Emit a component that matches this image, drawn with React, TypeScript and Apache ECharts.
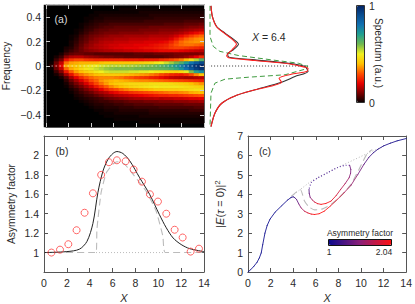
import React, { useEffect, useRef } from "react";
import * as echarts from "echarts";

const FONT = "Liberation Sans";
const xTicks14 = [0, 2, 4, 6, 8, 10, 12, 14];
const freqTicks = [-0.4, -0.2, 0, 0.2, 0.4];
const asymTicks = [1, 1.2, 1.4, 1.6, 1.8, 2];

const heatX = ["0.22","0.66","1.09","1.53","1.97","2.41","2.84","3.28","3.72","4.16","4.59","5.03","5.47","5.91","6.34","6.78","7.22","7.66","8.09","8.53","8.97","9.41","9.84","10.28","10.72","11.16","11.59","12.03","12.47","12.91","13.34","13.78"];
const heatF = [".488",".463",".439",".415",".39",".366",".342",".317",".293",".268",".244",".22",".195",".171",".146",".122",".098",".073",".049",".024","0","-.024","-.049","-.073","-.098","-.122","-.146","-.171","-.195","-.22","-.244","-.268","-.293","-.317","-.342","-.366","-.39","-.415","-.439","-.463","-.488"];
// one list per X column, top (f=+0.488) to bottom (f=-0.488), in hundredths
const spectrum = [
  [0,0,0,0,0,0,0,0,0,0,0,0,0,0,0,0,0,0,0,0,0,0,0,0,0,0,0,0,0,0,0,0,0,0,0,0,0,0,0,0,0],
  [0,0,0,0,0,0,0,0,0,0,0,0,0,0,0,0,0,0,0,1,3,1,0,0,0,0,0,0,0,0,0,0,0,0,0,0,0,0,0,0,0],
  [0,0,0,0,0,0,0,0,0,0,0,0,0,0,0,0,0,2,5,9,12,9,5,2,0,0,0,0,0,0,0,0,0,0,0,0,0,0,0,0,0],
  [0,0,0,0,0,0,0,0,0,0,0,0,0,0,0,0,2,5,10,17,21,17,11,6,2,0,0,0,0,0,0,0,0,0,0,0,0,0,0,0,0],
  [0,0,0,0,0,0,0,0,0,0,0,0,0,0,2,3,6,12,22,33,38,32,23,14,7,4,2,1,0,0,0,0,0,0,0,0,0,0,0,0,0],
  [0,0,0,0,0,0,0,0,0,0,1,1,2,2,3,5,8,15,27,37,41,38,31,22,14,9,6,4,2,1,0,0,0,0,0,0,0,0,0,0,0],
  [0,0,0,0,0,0,0,0,1,1,2,3,4,5,6,7,9,16,29,38,42,41,37,29,20,14,10,7,4,3,2,1,0,0,0,0,0,0,0,0,0],
  [0,0,0,0,0,0,1,1,2,3,5,6,7,8,9,9,9,16,29,39,45,45,40,33,25,19,14,10,7,5,3,2,1,0,0,0,0,0,0,0,0],
  [0,0,0,0,1,1,2,3,4,5,7,8,9,11,12,11,8,14,27,39,47,48,43,36,29,24,19,14,10,7,5,3,2,1,0,0,0,0,0,0,0],
  [0,0,0,1,1,2,3,4,5,7,9,10,12,13,14,12,8,13,26,39,49,51,45,38,32,29,24,18,13,9,6,4,3,2,1,0,0,0,0,0,0],
  [0,0,1,1,2,3,4,5,7,8,10,12,13,15,15,13,7,12,25,39,50,53,48,40,34,32,29,23,16,12,8,5,4,3,2,1,0,0,0,0,0],
  [0,0,1,2,2,3,5,6,8,9,11,13,15,16,16,14,7,11,25,40,52,55,50,41,35,36,33,27,20,14,10,6,5,3,2,1,1,0,0,0,0],
  [0,0,1,2,3,4,5,7,8,10,12,14,16,17,17,15,7,10,25,41,53,57,52,42,35,38,37,31,24,16,12,8,5,4,3,2,1,1,0,0,0],
  [0,0,1,2,3,4,6,7,9,10,13,14,16,18,18,15,7,10,25,41,54,58,53,42,35,39,40,35,27,19,13,9,6,4,3,2,1,1,0,0,0],
  [0,0,1,2,3,4,6,8,9,10,13,15,17,18,19,16,7,9,25,41,54,59,53,42,34,40,42,38,29,21,15,10,7,5,3,2,2,1,1,0,0],
  [0,1,1,2,3,4,6,8,9,11,13,15,17,19,19,16,7,9,25,41,54,59,53,41,33,39,43,40,32,23,16,11,7,5,4,3,2,1,1,0,0],
  [0,1,1,2,3,4,6,8,9,11,14,15,17,19,20,17,7,8,24,41,55,59,53,40,31,38,44,42,34,24,17,12,8,6,4,3,2,1,1,0,0],
  [0,1,1,2,3,4,6,8,9,11,14,16,18,19,20,17,7,8,24,41,55,59,52,39,30,37,45,44,36,26,18,13,9,6,4,3,2,1,1,0,0],
  [0,1,1,2,3,4,6,8,9,11,14,16,18,20,20,18,8,8,24,42,56,60,52,38,28,36,45,45,37,27,19,14,9,7,5,3,2,1,1,0,0],
  [0,1,2,2,3,4,6,8,10,11,14,16,18,20,21,18,8,8,23,43,57,60,51,37,27,35,45,46,38,28,20,14,9,7,5,3,2,2,1,1,0],
  [0,1,2,2,3,5,6,8,10,12,14,16,19,20,22,19,8,7,24,44,58,61,51,36,26,35,45,47,39,29,21,15,10,7,5,3,2,2,1,1,0],
  [0,1,2,3,3,5,6,9,10,12,15,17,19,21,22,19,8,7,24,45,59,61,50,34,24,34,46,48,40,30,22,15,10,7,5,4,3,2,1,1,0],
  [0,1,2,3,4,5,6,9,10,12,15,17,19,22,23,20,9,7,24,48,61,61,48,32,23,33,46,49,42,31,23,16,10,8,5,4,3,2,1,1,0],
  [0,1,2,3,4,5,6,9,11,13,15,17,20,23,24,21,9,7,26,50,63,62,47,29,21,32,46,48,42,32,24,15,11,8,6,4,3,2,1,1,0],
  [0,1,2,3,4,5,7,9,11,13,15,17,21,24,25,21,9,8,27,53,65,63,45,27,19,31,46,48,43,33,24,16,11,8,6,4,3,2,1,1,0],
  [0,1,2,3,4,5,7,9,11,13,16,19,24,27,27,21,9,9,29,56,68,65,44,25,17,30,45,48,43,34,25,16,11,8,6,4,3,2,1,1,0],
  [0,1,2,3,4,5,7,9,11,14,18,23,28,30,28,21,10,10,31,60,72,68,43,24,16,29,44,48,43,34,25,17,12,8,6,4,3,2,1,1,0],
  [0,1,2,3,4,5,7,9,12,15,21,27,32,32,28,20,10,11,34,64,77,73,45,23,15,28,43,47,44,35,26,17,12,8,6,4,3,2,1,1,0],
  [0,1,2,3,4,6,8,10,13,17,24,31,34,33,27,19,10,13,39,71,84,80,51,25,14,27,42,46,45,36,27,18,12,9,6,4,3,2,1,1,0],
  [0,1,2,3,4,6,8,11,14,19,27,33,35,33,26,18,10,16,46,79,90,87,59,29,14,26,40,45,46,38,28,19,13,9,6,5,3,2,1,1,0],
  [0,1,2,3,4,6,8,11,15,21,30,35,36,32,25,17,10,20,55,86,95,93,69,35,15,25,38,44,47,39,29,19,13,9,7,5,3,2,1,1,0],
  [0,1,2,3,4,6,9,12,16,23,32,36,36,31,24,16,11,25,63,91,98,96,75,41,16,24,36,43,47,40,30,20,14,9,7,5,3,2,1,1,0],
];
const heatColors = ["#000000","#780000","#e60000","#ff5000","#ffc000","#f0f020","#70b850","#20a090","#1070b0","#084c90","#042060"];

const zeroLineA = [[0.5, 0], [14, 0]];
const zeroLineOut = [[-0.05, 0], [1.0, 0]];
const blackOut = [[0.01,0.493],[0.024,0.406],[0.068,0.324],[0.153,0.269],[0.238,0.22],[0.29,0.179],[0.238,0.133],[0.18,0.1],[0.194,0.072],[0.46,0.05],[0.8,0.023],[0.97,-0.004],[1.0,-0.045],[0.867,-0.086],[0.73,-0.133],[0.46,-0.195],[0.255,-0.245],[0.12,-0.305],[0.05,-0.387],[0.01,-0.496]];
const redOut = [[0.01,0.493],[0.024,0.406],[0.065,0.324],[0.145,0.269],[0.225,0.22],[0.27,0.179],[0.225,0.133],[0.17,0.083],[0.19,0.068],[0.46,0.045],[0.8,0.018],[0.97,-0.01],[1.0,-0.018],[0.986,-0.045],[0.85,-0.064],[0.704,-0.1],[0.73,-0.133],[0.46,-0.195],[0.255,-0.245],[0.12,-0.305],[0.05,-0.387],[0.01,-0.496]];
const greenOut = [[0,0.493],[0,0.242],[0.034,0.16],[0.1,0.12],[0.29,0.086],[0.63,0.05],[0.9,0.023],[1.0,-0.004],[0.97,-0.026],[0.765,-0.072],[0.39,-0.092],[0.153,-0.108],[0.05,-0.141],[0.01,-0.223],[0,-0.496]];

const asymCircles = [[0.65,1.0],[1.4,1.03],[2.13,1.086],[2.85,1.23],[3.55,1.41],[4.28,1.61],[5,1.8],[5.68,1.93],[6.38,1.95],[7.14,1.94],[7.84,1.855],[8.57,1.73],[9.27,1.6],[9.97,1.525],[10.7,1.4],[11.43,1.235],[12.13,1.155],[12.83,1.01],[13.56,1.04]];
const asymBlack = [[0,1],[2,1.01],[3.1,1.035],[3.76,1.115],[4.28,1.3],[4.72,1.62],[5.16,1.84],[5.6,1.96],[6.03,2.02],[6.38,2.04],[6.9,2.02],[7.5,1.945],[8.37,1.77],[9.24,1.6],[10.1,1.39],[10.7,1.255],[11.3,1.15],[12,1.083],[12.75,1.04],[14,1.01]];
const asymGreyA = [[0,1],[4.55,1],[4.63,1.24],[5,1.62],[5.45,1.82],[6.03,1.91],[6.38,1.935],[7.05,1.91],[7.9,1.79],[8.95,1.63],[9.8,1.43],[10.4,1.17],[10.6,1],[14,1]];
const asymGreyDot = [[4.55,1],[10.6,1]];

// x, y, asymmetry factor
const energyLower = [[0,0,1],[0.2,0.1,1],[0.5,0.28,1],[0.8,0.5,1],[1.0,0.72,1],[1.17,0.98,1],[1.3,1.4,1],[1.5,2.0,1],[1.7,2.4,1],[1.95,2.72,1],[2.4,3.08,1],[3,3.42,1.01],[3.5,3.7,1.03],[3.8,3.83,1.08],[4,3.87,1.15],[4.15,3.82,1.25],[4.3,3.73,1.35],[4.5,3.5,1.5],[4.7,3.3,1.65],[5,3.13,1.82],[5.3,3.04,1.93],[5.6,2.98,2.0],[5.9,2.96,2.03],[6.3,3.0,2.04],[6.75,3.13,2.02],[7.3,3.4,1.92],[7.9,3.73,1.8],[8.5,4.08,1.68],[9.1,4.45,1.57],[9.7,5.0,1.42],[10.26,5.54,1.3],[10.7,5.9,1.2],[11.1,6.14,1.13],[11.5,6.32,1.1],[12,6.49,1.07],[12.6,6.63,1.05],[13.2,6.75,1.02],[14,6.87,1.01]];
const energyUpper = [[5.4,4.25,1.3],[5.42,4.05,1.4],[5.5,3.85,1.55],[5.7,3.7,1.75],[5.9,3.6,1.88],[6.15,3.52,1.97],[6.47,3.48,2.02],[6.9,3.53,2.0],[7.35,3.65,1.92],[7.8,3.93,1.82],[8.2,4.25,1.72],[8.6,4.55,1.62],[8.95,4.85,1.53],[9.08,5.08,1.47],[9.1,5.28,1.42],[9,5.49,1.38]];
const energyDotted = [[9,5.49],[8.66,5.49],[7.9,5.37],[7.05,5.11],[6.2,4.85],[5.6,4.6],[5.4,4.25]];
const energyGreyA = [[3.85,3.9],[4.63,4.25],[5,3.65],[5.4,3.35],[5.9,3.2],[6.6,3.25],[7.35,3.48],[8.2,3.9],[9.1,4.5],[9.8,5.25],[10.55,6.1],[11,6.3]];
const energyGreyDot = [[3.85,3.9],[4.63,4.25],[5.6,4.68],[7.9,5.37],[10.85,6.18],[12,6.45]];

const tickGrey = "#555";
const txt = "#2a2a2a";

function axis(extra: any, tickColor = tickGrey) {
  return {
    z: 5,
    axisLine: { show: true, onZero: false, lineStyle: { color: tickGrey, width: 1 } },
    axisTick: { show: true, inside: true, length: 4, lineStyle: { color: tickColor, width: 1 } },
    splitLine: { show: false },
    axisLabel: { show: false, color: txt, fontFamily: FONT, fontSize: 10.5, margin: 5 },
    nameTextStyle: { color: txt, fontFamily: FONT, fontSize: 10.3 },
    ...extra,
  };
}
const labelFmt = (v: number) => String(Math.round(v * 100) / 100).replace("-", "\u2212");
const label = (customValues?: number[]) => ({ show: true, color: txt, fontFamily: FONT, fontSize: 10.5, margin: 5, formatter: labelFmt, ...(customValues ? { customValues } : {}) });
const tick = (customValues: number[], color = tickGrey) => ({ show: true, inside: true, length: 4, customValues, lineStyle: { color, width: 1 } });
const xName = { name: "X", nameLocation: "middle", nameGap: 20, nameTextStyle: { color: txt, fontFamily: FONT, fontSize: 11, fontStyle: "italic" } };

function text(t: string, x: number, y: number, fill = txt, size = 10.5) {
  return { type: "text", x, y, z: 20, style: { text: t, fill, font: `${size}px ${FONT}`, align: "center", verticalAlign: "middle" } };
}

export default function App() {
  const ref = useRef<HTMLDivElement>(null);
  useEffect(() => {
    const chart = echarts.init(ref.current!, undefined, { renderer: "svg" });
    const heatData: number[][] = [];
    spectrum.forEach((col, i) => col.forEach((v, j) => heatData.push([i, j, v / 100])));
    const segment = (pts: number[][]) => (params: any, api: any) => {
      const i = params.dataIndex;
      if (i >= pts.length - 1) return { type: "group", children: [] };
      const a = api.coord([pts[i][0], pts[i][1]]);
      const b = api.coord([pts[i + 1][0], pts[i + 1][1]]);
      return { type: "line", shape: { x1: a[0], y1: a[1], x2: b[0], y2: b[1] }, style: { stroke: api.visual("color"), lineWidth: 1, lineCap: "round", opacity: 0.85 } };
    };
    const line = (data: number[][], xAxisIndex: number, yAxisIndex: number, color: string, width = 1, type: any = "solid", smooth: any = false) => ({
      type: "line", data, xAxisIndex, yAxisIndex, showSymbol: false, symbol: "none", smooth, z: 6,
      lineStyle: { color, width, type },
    });
    const range14 = { min: 0, max: 14, interval: 2 };
    const fRange = { type: "value", min: -0.5, max: 0.5 };
    chart.setOption({
      animation: false,
      backgroundColor: "#fff",
      grid: [
        { left: 44, top: 5, width: 160, height: 122, show: true, backgroundColor: "#000", borderWidth: 0 },
        { left: 44, top: 5, width: 160, height: 122 },
        { left: 210, top: 5, width: 100, height: 122 },
        { left: 44, top: 136, width: 160, height: 136 },
        { left: 248, top: 136, width: 160, height: 136 },
      ],
      xAxis: [
        { type: "category", gridIndex: 0, data: heatX, show: false },
        axis({ type: "value", gridIndex: 1, position: "bottom", ...range14 }, "#ccc"),
        axis({ type: "value", gridIndex: 1, position: "top", ...range14 }, "#ccc"),
        { type: "value", gridIndex: 2, min: 0, max: 1.02, show: false },
        axis({ type: "value", gridIndex: 3, position: "bottom", ...range14, axisLabel: label(), ...xName }),
        axis({ type: "value", gridIndex: 3, position: "top", ...range14 }),
        axis({ type: "value", gridIndex: 4, position: "bottom", ...range14, axisLabel: label(), ...xName }),
        axis({ type: "value", gridIndex: 4, position: "top", ...range14 }),
      ],
      yAxis: [
        { type: "category", gridIndex: 0, data: heatF, inverse: true, show: false },
        axis({ ...fRange, gridIndex: 1, position: "left", axisTick: tick(freqTicks, "#ccc"), axisLabel: label(freqTicks), name: "Frequency", nameLocation: "middle", nameGap: 35 }),
        axis({ ...fRange, gridIndex: 1, position: "right", axisTick: tick(freqTicks, "#ccc") }),
        { ...fRange, gridIndex: 2, show: false },
        axis({ type: "value", gridIndex: 3, position: "left", min: 0.8, max: 2.2, axisTick: tick(asymTicks), axisLabel: label(asymTicks), name: "Asymmetry factor", nameLocation: "middle", nameGap: 28 }),
        axis({ type: "value", gridIndex: 3, position: "right", min: 0.8, max: 2.2, axisTick: tick(asymTicks) }),
        axis({ type: "value", gridIndex: 4, position: "left", min: 0, max: 7, interval: 1, axisLabel: label(), name: "|{i|E}({i|\u03c4} = 0)|{s|2}", nameLocation: "middle", nameGap: 21,
          nameTextStyle: { color: txt, fontFamily: FONT, fontSize: 11, rich: { i: { fontStyle: "italic", fontFamily: FONT, fontSize: 11, color: txt }, s: { fontSize: 8, fontFamily: FONT, color: txt, verticalAlign: "top", lineHeight: 14 } } } }),
        axis({ type: "value", gridIndex: 4, position: "right", min: 0, max: 7, interval: 1 }),
      ],
      visualMap: [
        { type: "continuous", seriesIndex: 0, dimension: 2, min: 0, max: 1, show: true, calculable: false, left: 357, top: 5, itemWidth: 8, itemHeight: 98, padding: 0, text: ["", ""], textGap: 0, inRange: { color: heatColors } },
        { type: "continuous", seriesIndex: [11, 12], dimension: 2, min: 1, max: 2.04, show: true, orient: "horizontal", calculable: false, left: 328, top: 239, itemWidth: 6, itemHeight: 64, padding: 0, text: ["", ""], textGap: 0, inRange: { color: ["#08088c", "#8a1f78", "#ff1010"] } },
      ],
      series: [
        { type: "heatmap", xAxisIndex: 0, yAxisIndex: 0, data: heatData, z: 2, itemStyle: { borderWidth: 0 }, progressive: 0 },
        line(zeroLineA, 1, 1, "#e8e8e8", 1, [1, 3]),
        line(zeroLineOut, 3, 3, "#333", 1, [1, 2]),
        line(greenOut, 3, 3, "#3f9a3f", 1, [5, 3]),
        line(blackOut, 3, 3, "#333", 1.1, "solid", 0.25),
        line(redOut, 3, 3, "#ff2020", 1.1, "solid", 0.25),
        line(asymGreyDot, 4, 4, "#bbb", 1, [1, 2]),
        line(asymGreyA, 4, 4, "#bbb", 1.1, [7, 4], 0.15),
        line(asymBlack, 4, 4, "#222", 1, "solid", 0.3),
        { type: "scatter", xAxisIndex: 4, yAxisIndex: 4, data: asymCircles, symbol: "circle", symbolSize: 7, z: 7, itemStyle: { color: "rgba(0,0,0,0)", borderColor: "#ff4040", borderWidth: 1 } },
        line(energyGreyDot, 6, 6, "#bbb", 1, [1, 2]),
        { type: "custom", xAxisIndex: 6, yAxisIndex: 6, data: energyLower, renderItem: segment(energyLower), encode: { x: 0, y: 1 }, z: 7 },
        { type: "custom", xAxisIndex: 6, yAxisIndex: 6, data: energyUpper, renderItem: segment(energyUpper), encode: { x: 0, y: 1 }, z: 7 },
        line(energyDotted, 6, 6, "#5a2fa0", 1.2, [1, 2], 0.2),
        line(energyGreyA, 6, 6, "#bbb", 1.1, [7, 4], 0.2),
      ],
      graphic: [
        text("(a)", 61, 19, "#ddd"),
        text("(b)", 62, 151),
        text("(c)", 265, 151),
        { type: "text", x: 252, y: 36.5, z: 20, style: { text: "{i|X} = 6.4", fill: txt, font: `10.5px ${FONT}`, verticalAlign: "middle", rich: { i: { fontStyle: "italic", font: `italic 10.5px ${FONT}`, fill: txt } } } },
        { type: "text", x: 378, y: 53, rotation: -Math.PI / 2, z: 20, style: { text: "Spectrum (a.u.)", fill: txt, font: `10.2px ${FONT}`, align: "center", verticalAlign: "middle" } },
        text("1", 372, 6),
        text("0", 372, 103),
        text("Asymmetry factor", 360, 233, txt, 8.5),
        text("1", 329, 252, txt, 8.5),
        text("2.04", 384, 252, txt, 8.5),
        { type: "rect", z: 20, shape: { x: 356.5, y: 5.5, width: 8, height: 97 }, style: { fill: "none", stroke: "#333", lineWidth: 1 } },
        { type: "rect", z: 20, shape: { x: 328.5, y: 239.5, width: 63, height: 6 }, style: { fill: "none", stroke: "#111", lineWidth: 1 } },
      ],
    });
    return () => chart.dispose();
  }, []);
  return <div ref={ref} style={{ width: 415, height: 304, position: "absolute", left: 0, top: 0 }} />;
}
